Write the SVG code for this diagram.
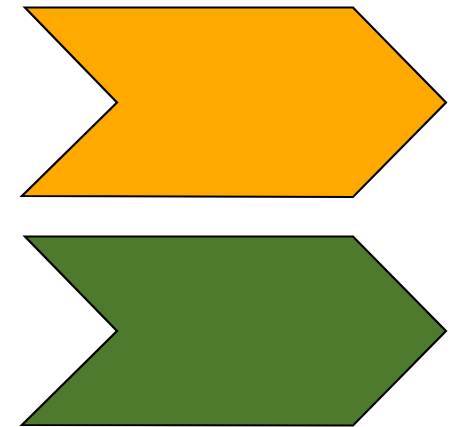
<svg xmlns="http://www.w3.org/2000/svg" width="451" height="427" viewBox="0 0 451 427">
<style>
.chev{stroke:#000;stroke-width:2.2;stroke-linejoin:miter}
</style>
<rect width="451" height="427" fill="#fff"/>
<g id="chevron1">
<polygon class="chev" fill="#FFA800" points="25,7.5 353,7.5 446,102.5 353,197 22,196 117,102.5"/>
</g>
<g id="chevron2">
<polygon class="chev" fill="#4E7A2D" points="25,236.5 353,236.5 446,331 353,425.5 22,425 117,331"/>
</g>
<g id="connectors"></g>
</svg>
